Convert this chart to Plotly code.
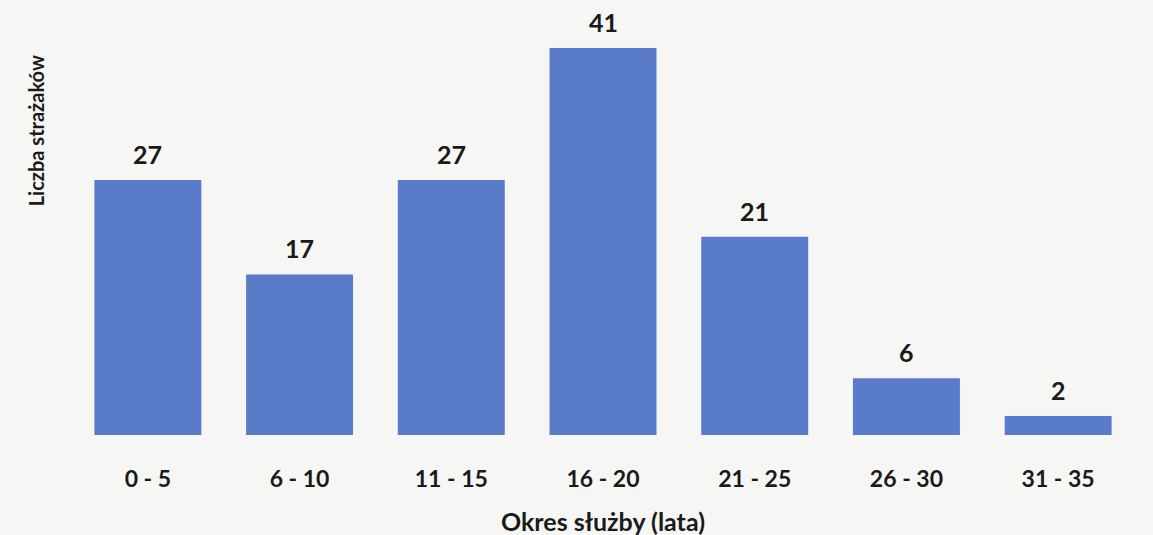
import plotly.graph_objects as go

categories = ["0 - 5", "6 - 10", "11 - 15", "16 - 20", "21 - 25", "26 - 30", "31 - 35"]
values = [27, 17, 27, 41, 21, 6, 2]

x_title = "Okres służby (lata)"
y_title = "Liczba strażaków"

FONT = "Lato, 'Open Sans', sans-serif"
BAR = "#5a7bc9"
INK = "#1a1a1a"

fig = go.Figure(go.Bar(
    x=categories, y=values,
    marker=dict(color=BAR, line=dict(width=0)),
    hoverinfo="x+y",
))

annotations = [
    dict(x=c, y=v, xref="x", yref="y", text=str(v), showarrow=False,
         xanchor="center", yanchor="middle", yshift=26,
         font=dict(family=FONT, size=25, color=INK, weight="bold"))
    for c, v in zip(categories, values)
]
annotations += [
    dict(text=x_title, xref="paper", yref="paper", x=0.5, y=0, yshift=-86,
         xanchor="center", yanchor="middle", showarrow=False,
         font=dict(family=FONT, size=25, color=INK, weight="bold")),
    dict(text=y_title, xref="paper", yref="paper", x=0, xshift=-36, y=0.748,
         xanchor="center", yanchor="middle", textangle=-90, showarrow=False,
         font=dict(family=FONT, size=20, color=INK, weight="bold")),
]

fig.update_layout(
    width=1153, height=535,
    margin=dict(l=72, r=19, t=29, b=100),
    paper_bgcolor="#f6f6f4", plot_bgcolor="#f6f6f4",
    bargap=0.295,
    showlegend=False,
    xaxis=dict(showline=False, showgrid=False, zeroline=False, ticks="",
               ticklabelstandoff=28,
               tickfont=dict(family=FONT, size=23, color=INK, weight="bold")),
    yaxis=dict(range=[0, 43], visible=False),
    annotations=annotations,
)

fig.write_html("out.html", config={"displayModeBar": False},
               post_script="document.body.style.margin='0';document.body.style.overflow='hidden';")
